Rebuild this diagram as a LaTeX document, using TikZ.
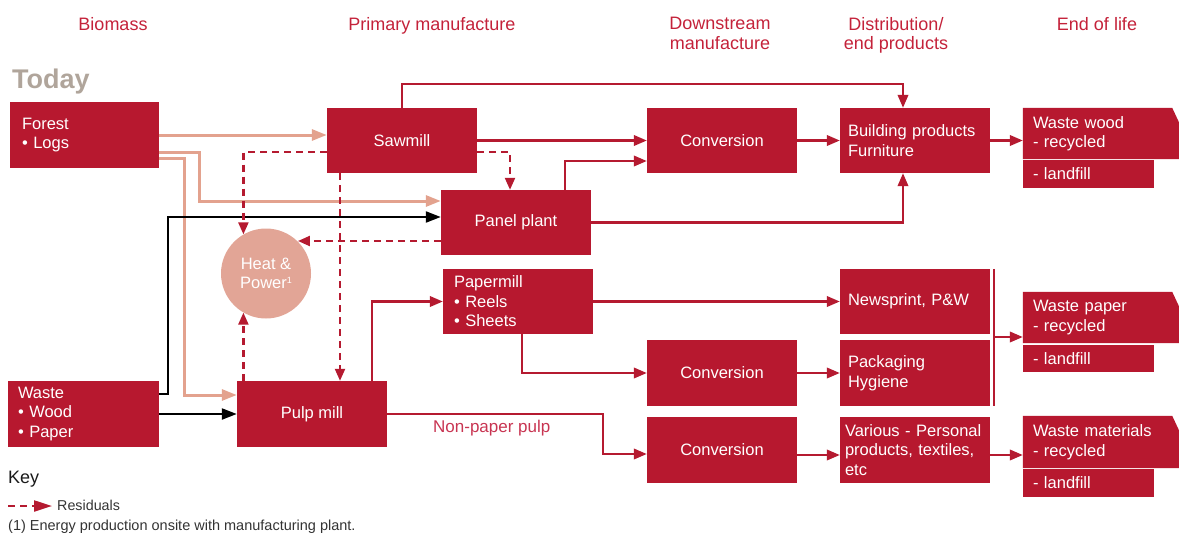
\documentclass[tikz,border=0pt]{standalone}
\usepackage{fontspec}
\setmainfont{Liberation Sans}
\usetikzlibrary{arrows.meta,backgrounds,calc}
\definecolor{boxred}{HTML}{B7182F}
\definecolor{linered}{HTML}{B51A30}
\definecolor{pinkline}{HTML}{E3A28E}
\definecolor{hpfill}{HTML}{E2A596}
\definecolor{hdrred}{HTML}{C4223A}
\definecolor{nppred}{HTML}{C83552}
\definecolor{todaygrey}{HTML}{B0A59B}
\definecolor{darkgrey}{HTML}{333333}
\definecolor{keyblack}{HTML}{1A1A1A}
\newcommand{\boxfnt}{\fontsize{16.5}{19.5}\selectfont}
\newcommand{\hdrfnt}{\fontsize{18}{19.5}\selectfont}
\begin{document}
\begin{tikzpicture}[x=1pt,y=-1pt,
  box/.style={fill=boxred,text=white,minimum width=150pt,minimum height=65pt,inner sep=0pt,font=\boxfnt,align=center},
  lbox/.style={box,align=left,text width=#1},
  wbox/.style={text=white,minimum width=156pt,minimum height=51pt,inner sep=0pt,font=\boxfnt,align=left,text width=136pt},
  lfbox/.style={fill=boxred,text=white,minimum width=131pt,minimum height=28pt,inner sep=0pt,font=\boxfnt,align=left,text width=111pt},
  hdr/.style={anchor=north,inner sep=0pt,font=\hdrfnt,text=hdrred,align=center},
  redarr/.style={draw=linered,line width=2.2pt,-{Triangle[length=13pt,width=10.5pt]}},
  pinkarr/.style={draw=pinkline,line width=3pt,-{Triangle[length=15pt,width=11pt]}},
  blackarr/.style={draw=black,line width=2.2pt,-{Triangle[length=15pt,width=11pt]}},
  resid/.style={draw=linered,line width=2.2pt,dash pattern=on 7pt off 5pt,-{Triangle[length=12pt,width=10pt]}}
]
\useasboundingbox (0,0) rectangle (1179,533);

% headers
\node[hdr] (h1) at (113,17) {Biomass};
\node[hdr] (h2) at (432,17) {Primary manufacture};
\node[hdr] (h3) at (720,17) {Downstream\\manufacture};
\node[hdr] (h4) at (896,17) {Distribution/\\end products};
\node[hdr] (h5) at (1097,17) {End of life};
\node[anchor=base west,inner sep=0pt,font=\fontsize{27}{27}\selectfont\bfseries,text=todaygrey] (today) at (12,88) {Today};

% boxes
\node[lbox=125pt,minimum width=149pt,minimum height=66pt] (forest) at (84.5,135) {Forest\\• Logs};
\node[lbox=131pt,minimum width=151pt,minimum height=66pt] (waste) at (83.5,414) {Waste\\• Wood\\• Paper};
\node[box] (sawmill) at (402,140.5) {Sawmill};
\node[box] (panel) at (516,222.5) {Panel plant};
\node[lbox=128pt] (paper) at (518,301.5) {Papermill\\• Reels\\• Sheets};
\node[box,minimum height=66pt] (pulp) at (312,414) {Pulp mill};
\node[circle,fill=hpfill,minimum size=90pt,inner sep=0pt,text=white,font=\boxfnt,align=center] (hp) at (266,273.5) {Heat \&\\Power{\fontsize{9}{9}\selectfont\raisebox{5pt}{1}}};
\node[box] (conv1) at (722,140.5) {Conversion};
\node[box,minimum height=66pt] (conv2) at (722,373) {Conversion};
\node[box,minimum height=66pt] (conv3) at (722,450) {Conversion};
\node[lbox=134pt] (build) at (915,140.5) {Building products\\Furniture};
\node[lbox=134pt] (news) at (915,301.5) {Newsprint, P\&W};
\node[lbox=134pt,minimum height=66pt] (pack) at (915,373) {Packaging\\Hygiene};
\node[lbox=140pt,minimum height=66pt] (various) at (915,450) {Various - Personal\\products, textiles,\\etc};

\node[wbox] (wwood) at (1101,133.5) {Waste wood\\- recycled};
\node[lfbox] (lf1) at (1088.5,174) {- landfill};
\node[wbox] (wpaper) at (1101,317.5) {Waste paper\\- recycled};
\node[lfbox,minimum height=27pt] (lf2) at (1088.5,358.5) {- landfill};
\node[wbox,minimum height=52pt] (wmat) at (1101,442) {Waste materials\\- recycled};
\node[lfbox] (lf3) at (1088.5,483) {- landfill};

\begin{scope}[on background layer]
\foreach \n in {wwood,wpaper,wmat}
  \fill[boxred] (\n.south west) -- (\n.north west) -- ([xshift=-7pt]\n.north east) -- ([yshift=-15pt]\n.north east) -- (\n.south east) -- cycle;
\end{scope}

% pink (raw material) flows
\draw[pinkarr] (forest.east) -- (forest.east -| sawmill.west);
\draw[pinkarr] ([yshift=-17pt]forest.east) -- ++(40,0) |- ([yshift=21.5pt]panel.west);
\draw[pinkarr] ([yshift=-23pt]forest.east) -- ++(25,0) |- ([yshift=19pt]pulp.west);

% black (waste) flows
\draw[blackarr] ([yshift=20pt]waste.east) -- ++(9,0) |- ([yshift=5.5pt]panel.west);
\draw[blackarr] (waste.east) -- (waste.east -| pulp.west);

% red flows
\draw[redarr] (sawmill.east) -- (conv1.west);
\draw[redarr] ([xshift=49pt]panel.north) |- ([yshift=-20.5pt]conv1.west);
\draw[redarr] (sawmill.north) -- ++(0,-24) -| ([xshift=-12pt]build.north);
\draw[redarr] (panel.east) -| ([xshift=-12pt]build.south);
\draw[redarr] (conv1.east) -- (build.west);
\draw[redarr] (build.east) -- (build.east -| wwood.west);
\draw[redarr] (paper.east) -- (news.west);
\draw[redarr] ([xshift=4pt]paper.south) |- (conv2.west);
\draw[redarr] (conv2.east) -- (pack.west);
\draw[redarr] ([yshift=-5pt]conv3.east) -- ([yshift=-5pt]various.west);
\coordinate (vE) at ([yshift=-5pt]various.east);
\draw[redarr] (vE) -- (vE -| wmat.west);
\draw[redarr] ([xshift=60pt]pulp.north) |- (paper.west);
\draw[redarr] (pulp.east) -- ++(216,0) |- ([yshift=-4pt]conv3.west);
\node[anchor=base west,inner sep=0pt,text=nppred,font=\fontsize{17}{17}\selectfont] (npp) at (433,432) {Non-paper pulp};

\coordinate (bartop) at ([xshift=4pt]news.north east);
\coordinate (barbot) at ([xshift=4pt]pack.south east);
\draw[linered,line width=2.2pt] (bartop) -- (barbot);
\coordinate (wpin) at ([yshift=-19.5pt]wpaper.west);
\draw[redarr] (bartop |- wpin) -- (wpin);

% residuals
\draw[resid] ([yshift=-11.5pt]sawmill.west) -| (hp.120.7);
\draw[resid] ([yshift=-11.5pt]sawmill.east) -| ([xshift=-6pt]panel.north);
\coordinate (sd) at ([xshift=-62pt]sawmill.south);
\draw[resid] (sd) -- (sd |- pulp.north);
\coordinate (pw) at ([yshift=-18.5pt]panel.west);
\draw[resid] (pw) -- (pw -| hp.45);
\draw[resid] (hp.-120.7 |- pulp.north) -- (hp.-120.7);

% key
\node[anchor=base west,inner sep=0pt,font=\fontsize{18}{18}\selectfont,text=keyblack] (key) at (8,483) {Key};
\coordinate (ks) at (8,506);
\coordinate (ke) at (52,506);
\draw[resid,-{Triangle[length=18pt,width=11pt]}] (ks) -- (ke);
\node[anchor=base west,inner sep=0pt,font=\fontsize{14.3}{14.3}\selectfont,text=darkgrey] (kres) at (57,510) {Residuals};
\node[anchor=base west,inner sep=0pt,font=\fontsize{14.5}{14.5}\selectfont,text=darkgrey] (fn) at (8,530) {(1) Energy production onsite with manufacturing plant.};
\end{tikzpicture}
\end{document}
